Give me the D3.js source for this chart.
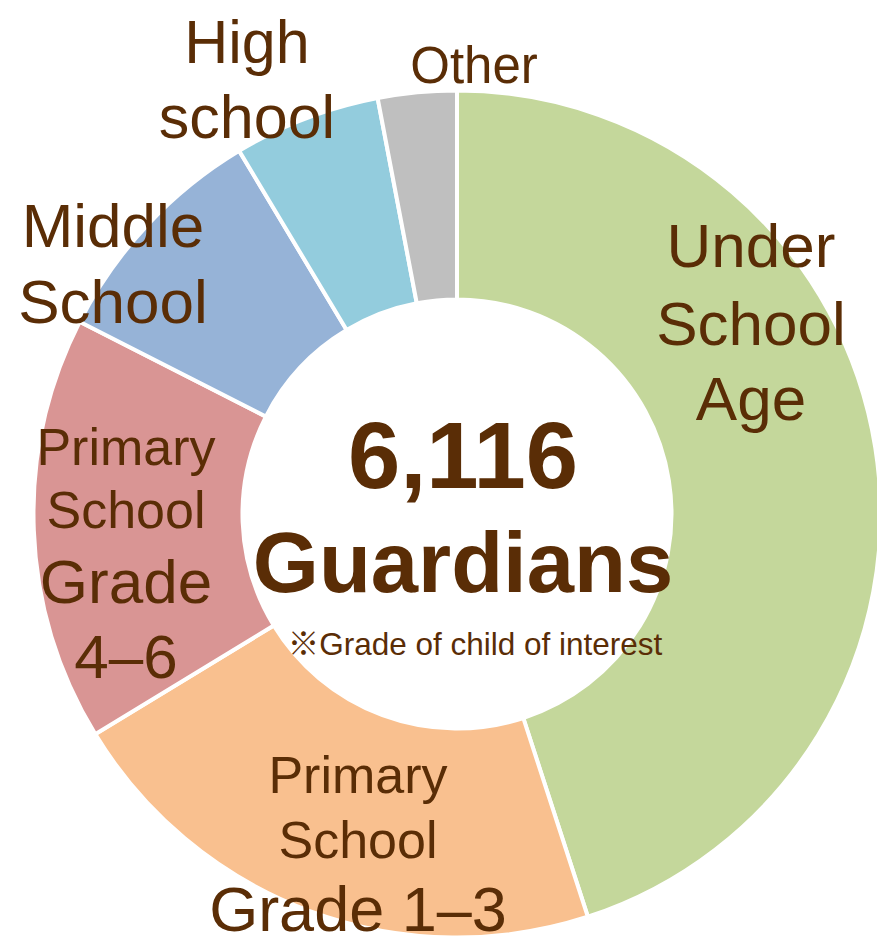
<!DOCTYPE html>
<html>
<head>
<meta charset="utf-8">
<script src="https://cdn.jsdelivr.net/npm/d3@7"></script>
<style>
  html, body { margin: 0; padding: 0; background: #ffffff; }
  svg { display: block; }
  text { font-family: "Liberation Sans", Arial, "Noto Sans CJK JP", sans-serif; fill: #5a2d06; }
</style>
</head>
<body>
<svg id="chart" width="877" height="937"></svg>
<script>
// Grade of the child of interest, share of respondents (%)
const categories = ["Under School Age", "Primary School Grade 1–3", "Primary School Grade 4–6", "Middle School", "High school", "Other"];
const shares = [45.0, 21.3, 16.2, 8.9, 5.6, 3.0];
const totalCount = "6,116";
const totalUnit = "Guardians";
const footnote = "※Grade of child of interest";

// Label lines shown for each category
const labelLines = [
  ["Under", "School", "Age"],
  ["Primary", "School", "Grade 1–3"],
  ["Primary", "School", "Grade", "4–6"],
  ["Middle", "School"],
  ["High", "school"],
  ["Other"]
];

const colors = ["#c4d79b", "#f9c08f", "#d99594", "#96b3d7", "#93ccdd", "#bfbfbf"];

// Geometry
const cx = 457, cy = 514;
const outerR = 423.5, innerR = 214.5;

// Where each label block sits: anchor x, baselines of each line, font sizes per line
const labelLayout = [
  { x: 751, ys: [267, 345, 420], sizes: [62, 62, 62] },
  { x: 358, ys: [793, 858, 931], sizes: [52, 52, 63] },
  { x: 126, ys: [465, 528, 603, 678], sizes: [52, 52, 62, 62] },
  { x: 113, ys: [247, 323], sizes: [62, 62] },
  { x: 247, ys: [63, 138], sizes: [61, 61] },
  { x: 474, ys: [83], sizes: [51] }
];

const svg = d3.select("#chart");
const g = svg.append("g").attr("transform", `translate(${cx},${cy})`);

const data = categories.map((c, i) => ({ name: c, value: shares[i], color: colors[i] }));

const pie = d3.pie().value(d => d.value).sort(null).startAngle(0).endAngle(2 * Math.PI);
const arc = d3.arc().innerRadius(innerR).outerRadius(outerR);

g.selectAll("path.slice")
  .data(pie(data))
  .join("path")
  .attr("class", "slice")
  .attr("d", arc)
  .attr("fill", d => d.data.color)
  .attr("stroke", "#ffffff")
  .attr("stroke-width", 4)
  .attr("stroke-linejoin", "miter");

// Category labels
labelLayout.forEach((lay, i) => {
  labelLines[i].forEach((line, j) => {
    svg.append("text")
      .attr("x", lay.x)
      .attr("y", lay.ys[j])
      .attr("text-anchor", "middle")
      .attr("font-size", lay.sizes[j])
      .text(line);
  });
});

// Centre totals
svg.append("text")
  .attr("x", 463).attr("y", 488)
  .attr("text-anchor", "middle")
  .attr("font-size", 94).attr("font-weight", "bold")
  .text(totalCount);

svg.append("text")
  .attr("x", 463).attr("y", 592)
  .attr("text-anchor", "middle")
  .attr("font-size", 85).attr("font-weight", "bold")
  .text(totalUnit);

svg.append("text")
  .attr("x", 475).attr("y", 655)
  .attr("text-anchor", "middle")
  .attr("font-size", 31.5)
  .text(footnote);
</script>
</body>
</html>
